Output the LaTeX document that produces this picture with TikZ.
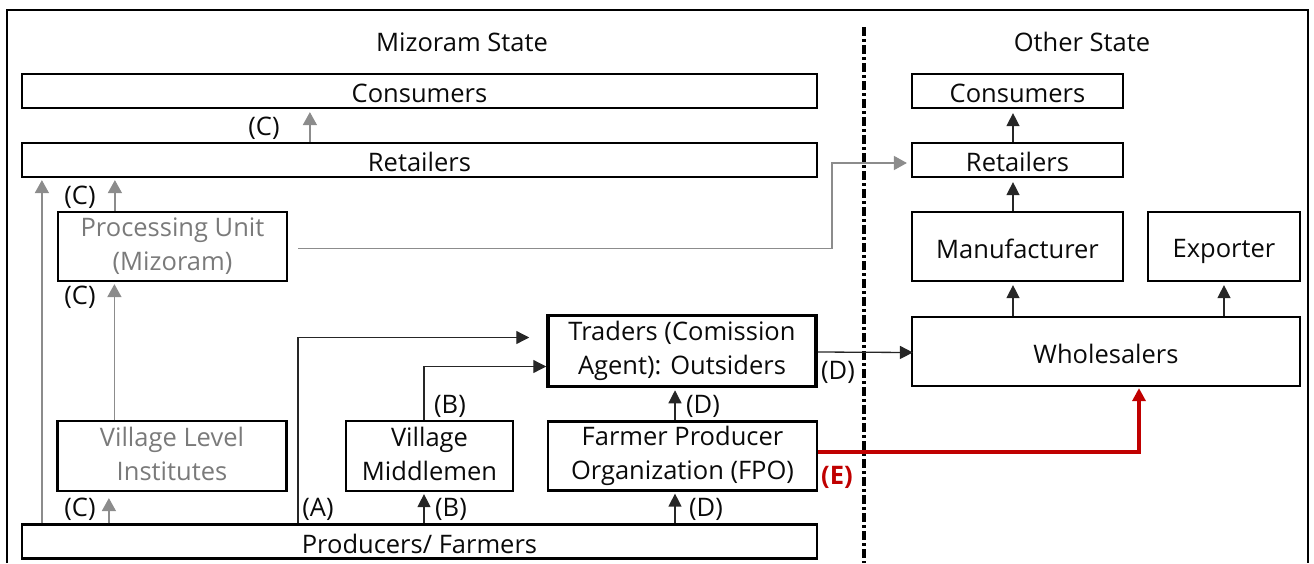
\documentclass[tikz,border=0pt]{standalone}
\usepackage{fontspec}
\setmainfont{Open Sans}
\usetikzlibrary{arrows.meta}
\definecolor{lgray}{RGB}{122,122,122}
\definecolor{agray}{RGB}{140,140,140}
\definecolor{ered}{RGB}{192,0,0}
\definecolor{tblack}{RGB}{10,10,10}
\newcommand\mystrut{\rule[-5pt]{0pt}{33pt}}
\newcommand\topstrut{\rule{0pt}{34pt}}
\newcommand\botstrut{\rule[-5pt]{0pt}{5pt}}
\begin{document}
\begin{tikzpicture}[x=1pt,y=-1pt,
  font=\fontsize{25.5}{34}\selectfont,
  box/.style={draw, line width=2.2pt, inner sep=0pt, align=center, text=tblack,
    execute at begin node=\mystrut, execute at end node=\mystrut},
  boxtwo/.style={box, execute at begin node=\topstrut, execute at end node=\botstrut},
  gbox/.style={boxtwo, text=lgray},
  lbl/.style={inner sep=0pt, text=tblack},
  barr/.style={draw=black!85, line width=1.3pt, -{Triangle[length=13pt,width=13pt]}},
  garr/.style={draw=agray, line width=1.5pt, -{Triangle[length=13pt,width=14pt]}},
  rarr/.style={draw=ered, line width=4pt, -{Triangle[length=13pt,width=13pt]}}]
\useasboundingbox (0,0) rectangle (1314,563);
% frame
\draw[line width=2pt] (7,563) -- (7,10) -- (1308,10) -- (1308,563);
\draw[line width=3.5pt, dash pattern=on 9pt off 3pt on 3pt off 3pt] (864,27) -- (864,563);
% titles
\node[lbl] (tM) at (462,42) {Mizoram State};
\node[lbl] (tO) at (1082,42) {Other State};
% left boxes
\node[box, minimum width=795pt, minimum height=34pt] (consL) at (419.5,91) {Consumers};
\node[box, minimum width=795pt, minimum height=34pt] (retL) at (419.5,160) {Retailers};
\node[gbox, minimum width=229pt, minimum height=69pt] (proc) at (172.5,246.5) {Processing Unit\\(Mizoram)};
\node[gbox, minimum width=229pt, minimum height=70pt] (vli) at (172,456) {Village Level\\Institutes};
\node[boxtwo, minimum width=167pt, minimum height=70pt] (midd) at (429.5,456) {Village\\Middlemen};
\node[boxtwo, minimum width=269pt, minimum height=69pt] (fpo) at (682.5,456) {Farmer Producer\\Organization (FPO)};
\node[boxtwo, line width=3.5pt, minimum width=268pt, minimum height=71pt] (trad) at (682,351) {Traders (Comission\\Agent): Outsiders};
\node[box, minimum width=795pt, minimum height=34pt] (prod) at (419.5,541.5) {Producers/ Farmers};
% right boxes
\node[box, minimum width=211pt, minimum height=34pt] (consR) at (1017.5,91) {Consumers};
\node[box, minimum width=211pt, minimum height=34pt] (retR) at (1017.5,160) {Retailers};
\node[box, minimum width=211pt, minimum height=69pt] (manu) at (1017.5,246.5) {Manufacturer};
\node[box, minimum width=152pt, minimum height=69pt] (expo) at (1224,246.5) {Exporter};
\node[box, minimum width=388pt, minimum height=69pt] (whol) at (1106,351.5) {Wholesalers};
% gray connectors
\draw[garr, shorten >=3pt] ([xshift=289pt]retL.north west) -- ([xshift=289pt]consL.south west);
\draw[garr, shorten >=2pt] ([xshift=21pt]prod.north west) -- ([xshift=21pt]retL.south west);
\draw[garr, shorten >=2pt] ([xshift=58pt]proc.north west) -- ([xshift=58pt]proc.north west |- retL.south);
\draw[garr, shorten >=2pt] ([xshift=58pt]vli.north west) -- ([xshift=58pt]vli.north west |- proc.south);
\draw[garr, shorten >=6pt] ([xshift=88pt]prod.north west) -- ([xshift=88pt]prod.north west |- vli.south);
\draw[garr, shorten >=4pt] ([xshift=10pt,yshift=-2pt]proc.east) -| ([xshift=-79pt,yshift=-3pt]retR.west) -- ([yshift=-3pt]retR.west);
% black connectors
\draw[barr, shorten >=17pt] ([xshift=277pt]prod.north west) |- ([yshift=13.5pt]trad.west);
\draw[barr] ([xshift=-5.5pt]midd.north) |- ([yshift=-15.5pt]trad.west);
\draw[barr, shorten >=2pt] ([xshift=-5.5pt]midd.south |- prod.north) -- ([xshift=-5.5pt]midd.south);
\draw[barr, shorten >=2pt] ([xshift=-7.5pt]fpo.south |- prod.north) -- ([xshift=-7.5pt]fpo.south);
\draw[barr, shorten >=2pt] ([xshift=-7.5pt]fpo.north) -- ([xshift=-7.5pt]fpo.north |- trad.south);
\draw[barr, shorten >=-2pt] ([yshift=-1pt]trad.east) -- ([yshift=-1pt]whol.west);
\draw[barr, shorten >=3pt] ([xshift=-4.5pt]manu.south |- whol.north) -- ([xshift=-4.5pt]manu.south);
\draw[barr, shorten >=3pt] (whol.north -| expo.south) -- (expo.south);
\draw[barr, shorten >=4pt] ([xshift=-4.5pt]manu.north) -- ([xshift=-4.5pt]retR.south);
\draw[barr, shorten >=4pt] ([xshift=-4.5pt]retR.north) -- ([xshift=-4.5pt]consR.south);
% red connector
\draw[rarr, shorten >=1pt] ([yshift=4.5pt]fpo.east) -| ([xshift=33pt]whol.south);
% labels
\node[lbl] (c1) at (264,128) {(C)};
\node[lbl] (c2) at (80,197) {(C)};
\node[lbl] (c3) at (80,297) {(C)};
\node[lbl] (c4) at (80,509) {(C)};
\node[lbl] (la) at (318,509) {(A)};
\node[lbl] (b1) at (450,406) {(B)};
\node[lbl] (b2) at (451,509) {(B)};
\node[lbl] (d1) at (703,406) {(D)};
\node[lbl] (d2) at (706,509) {(D)};
\node[lbl] (d3) at (838,372) {(D)};
\node[lbl, text=ered, font=\fontsize{25.5}{34}\selectfont\bfseries] (le) at (837,477) {(E)};
\end{tikzpicture}
\end{document}
